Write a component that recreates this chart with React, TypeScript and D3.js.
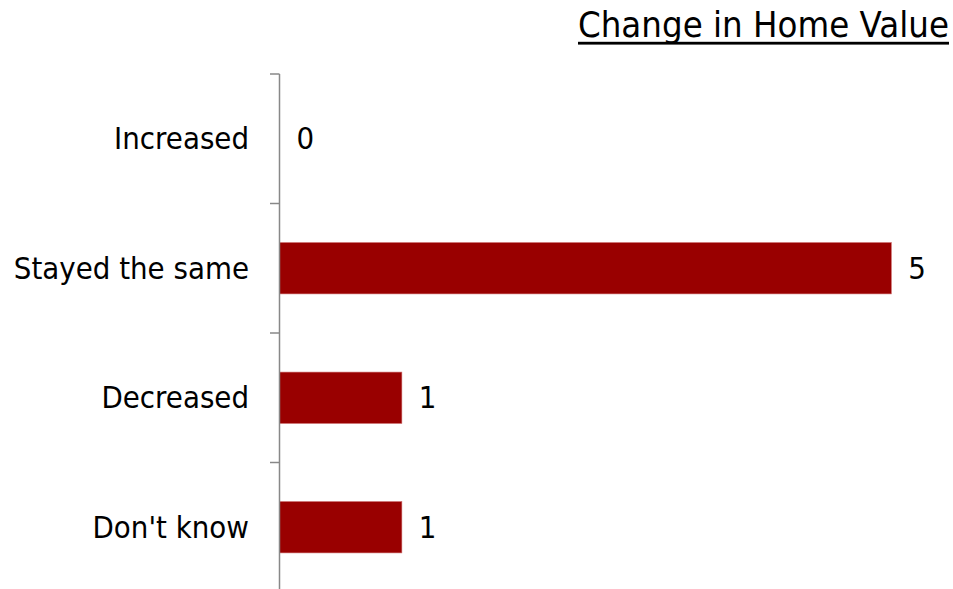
import React from "react";
import * as d3 from "d3";

const categories = ["Increased", "Stayed the same", "Decreased", "Don't know"];
const values = [0, 5, 1, 1];
const title = "Change in Home Value";

const W = 953;
const H = 589;
const FONT = "'DejaVu Sans', Tahoma, Verdana, sans-serif";
const SX = 0.925;

export default function App() {
  const y = d3.scaleBand<string>().domain(categories).range([74, 592]).paddingInner(0).paddingOuter(0);
  const x = d3.scaleLinear().domain([0, 5]).range([279.5, 891.3]);
  const barH = 51.3;
  const bw = y.bandwidth();
  const ticks = [...categories.map((c) => y(c) as number), 592];

  return (
    <svg width={W} height={H} style={{ position: "absolute", left: 0, top: 0, background: "#fff" }}>
      <text x={949} y={37} textAnchor="end" fontFamily={FONT} fontSize={35} fill="#000"
        textLength={371} lengthAdjust="spacingAndGlyphs">{title}</text>
      <rect x={578} y={41.8} width={371} height={2.8} fill="#000" />
      {categories.map((c, i) => {
        const cy = (y(c) as number) + bw / 2;
        return (
          <g key={c}>
            {values[i] > 0 && (
              <rect x={x(0)} y={cy - barH / 2} width={x(values[i]) - x(0)} height={barH}
                fill="#990000" stroke="#c86464" strokeWidth={0.6} />
            )}
            <text transform={`translate(249,${cy + 10.3}) scale(${SX},1)`} textAnchor="end"
              fontFamily={FONT} fontSize={30} fill="#000">{c}</text>
            <text transform={`translate(${x(values[i]) + 17},${cy + 10.3}) scale(${SX},1)`} textAnchor="start"
              fontFamily={FONT} fontSize={30} fill="#000">{values[i]}</text>
          </g>
        );
      })}
      <line x1={279.5} x2={279.5} y1={74} y2={H} stroke="#888" strokeWidth={1.5} />
      {ticks.map((t, i) => (
        <line key={i} x1={270} x2={279.5} y1={t} y2={t} stroke="#888" strokeWidth={1.5} />
      ))}
    </svg>
  );
}
